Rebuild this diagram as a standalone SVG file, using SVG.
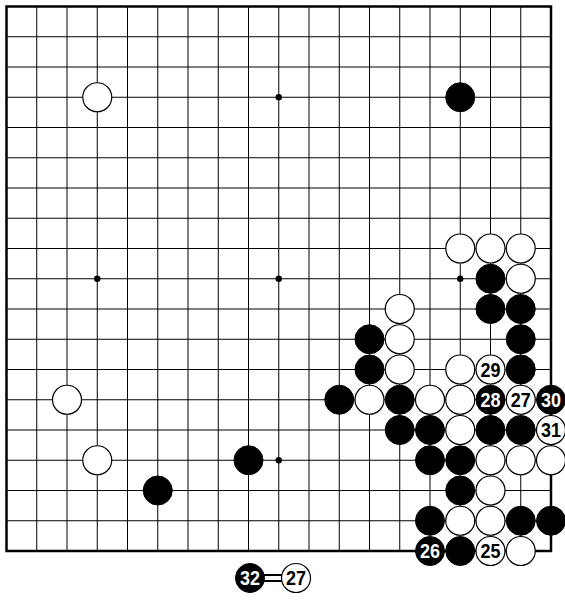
<svg xmlns="http://www.w3.org/2000/svg" width="565" height="602" viewBox="0 0 565 602">
<style>
.grid{stroke:#000;stroke-width:1;fill:none}
.border{stroke:#000;stroke-width:2.5;fill:none}
.b{fill:#000;stroke:#000;stroke-width:1}
.w{fill:#fff;stroke:#000;stroke-width:1.2}
.hoshi{fill:#000}
text{font-family:"Liberation Sans",Arial,sans-serif;font-weight:bold;font-size:19.5px;text-anchor:middle}
.tw{fill:#fff}
.tb{fill:#000}
</style>
<rect width="565" height="602" fill="#fff"/>
<g id="board">
<path class="grid" d="M36.75 6.5V551M67 6.5V551M97.25 6.5V551M127.5 6.5V551M157.75 6.5V551M188 6.5V551M218.25 6.5V551M248.5 6.5V551M278.75 6.5V551M309 6.5V551M339.25 6.5V551M369.5 6.5V551M399.75 6.5V551M430 6.5V551M460.25 6.5V551M490.5 6.5V551M520.75 6.5V551M6.5 36.75H551M6.5 67H551M6.5 97.25H551M6.5 127.5H551M6.5 157.75H551M6.5 188H551M6.5 218.25H551M6.5 248.5H551M6.5 278.75H551M6.5 309H551M6.5 339.25H551M6.5 369.5H551M6.5 399.75H551M6.5 430H551M6.5 460.25H551M6.5 490.5H551M6.5 520.75H551"/>
<rect class="border" x="6.5" y="6.5" width="544.5" height="544.5"/>
<circle class="hoshi" cx="278.75" cy="97.25" r="3.2"/>
<circle class="hoshi" cx="97.25" cy="278.75" r="3.2"/>
<circle class="hoshi" cx="278.75" cy="278.75" r="3.2"/>
<circle class="hoshi" cx="460.25" cy="278.75" r="3.2"/>
<circle class="hoshi" cx="278.75" cy="460.25" r="3.2"/>
</g>
<g id="stones">
<circle id="w-3-3" class="w" cx="97.25" cy="97.25" r="14.5"/>
<circle id="b-15-3" class="b" cx="460.25" cy="97.25" r="14.5"/>
<circle class="w" cx="460.25" cy="248.5" r="14.5"/>
<circle class="w" cx="490.5" cy="248.5" r="14.5"/>
<circle class="w" cx="520.75" cy="248.5" r="14.5"/>
<circle class="b" cx="490.5" cy="278.75" r="14.5"/>
<circle class="w" cx="520.75" cy="278.75" r="14.5"/>
<circle class="w" cx="399.75" cy="309" r="14.5"/>
<circle class="b" cx="490.5" cy="309" r="14.5"/>
<circle class="b" cx="520.75" cy="309" r="14.5"/>
<circle class="b" cx="369.5" cy="339.25" r="14.5"/>
<circle class="w" cx="399.75" cy="339.25" r="14.5"/>
<circle class="b" cx="520.75" cy="339.25" r="14.5"/>
<circle class="b" cx="369.5" cy="369.5" r="14.5"/>
<circle class="w" cx="399.75" cy="369.5" r="14.5"/>
<circle class="w" cx="460.25" cy="369.5" r="14.5"/>
<circle class="b" cx="520.75" cy="369.5" r="14.5"/>
<circle class="w" cx="67" cy="399.75" r="14.5"/>
<circle class="b" cx="339.25" cy="399.75" r="14.5"/>
<circle class="w" cx="369.5" cy="399.75" r="14.5"/>
<circle class="b" cx="399.75" cy="399.75" r="14.5"/>
<circle class="w" cx="430" cy="399.75" r="14.5"/>
<circle class="w" cx="460.25" cy="399.75" r="14.5"/>
<circle class="b" cx="399.75" cy="430" r="14.5"/>
<circle class="b" cx="430" cy="430" r="14.5"/>
<circle class="w" cx="460.25" cy="430" r="14.5"/>
<circle class="b" cx="490.5" cy="430" r="14.5"/>
<circle class="b" cx="520.75" cy="430" r="14.5"/>
<circle class="w" cx="97.25" cy="460.25" r="14.5"/>
<circle class="b" cx="248.5" cy="460.25" r="14.5"/>
<circle class="b" cx="430" cy="460.25" r="14.5"/>
<circle class="b" cx="460.25" cy="460.25" r="14.5"/>
<circle class="w" cx="490.5" cy="460.25" r="14.5"/>
<circle class="w" cx="520.75" cy="460.25" r="14.5"/>
<circle class="w" cx="551" cy="460.25" r="14.5"/>
<circle class="b" cx="157.75" cy="490.5" r="14.5"/>
<circle class="b" cx="460.25" cy="490.5" r="14.5"/>
<circle class="w" cx="490.5" cy="490.5" r="14.5"/>
<circle class="b" cx="430" cy="520.75" r="14.5"/>
<circle class="w" cx="460.25" cy="520.75" r="14.5"/>
<circle class="w" cx="490.5" cy="520.75" r="14.5"/>
<circle class="b" cx="520.75" cy="520.75" r="14.5"/>
<circle class="b" cx="551" cy="520.75" r="14.5"/>
<circle class="b" cx="460.25" cy="551" r="14.5"/>
<circle class="w" cx="520.75" cy="551" r="14.5"/>
</g>
<g id="m25"><circle class="w" cx="490.5" cy="551" r="14.5"/><text class="tb" x="490.5" y="558" textLength="20" lengthAdjust="spacingAndGlyphs">25</text></g>
<g id="m26"><circle class="b" cx="430" cy="551" r="14.5"/><text class="tw" x="430" y="558" textLength="20" lengthAdjust="spacingAndGlyphs">26</text></g>
<g id="m27"><circle class="w" cx="520.75" cy="399.75" r="14.5"/><text class="tb" x="520.75" y="406.75" textLength="20" lengthAdjust="spacingAndGlyphs">27</text></g>
<g id="m28"><circle class="b" cx="490.5" cy="399.75" r="14.5"/><text class="tw" x="490.5" y="406.75" textLength="20" lengthAdjust="spacingAndGlyphs">28</text></g>
<g id="m29"><circle class="w" cx="490.5" cy="369.5" r="14.5"/><text class="tb" x="490.5" y="376.5" textLength="20" lengthAdjust="spacingAndGlyphs">29</text></g>
<g id="m30"><circle class="b" cx="551" cy="399.75" r="14.5"/><text class="tw" x="551" y="406.75" textLength="20" lengthAdjust="spacingAndGlyphs">30</text></g>
<g id="m31"><circle class="w" cx="551" cy="430" r="14.5"/><text class="tb" x="551" y="437" textLength="20" lengthAdjust="spacingAndGlyphs">31</text></g>
<g id="legend">
<circle class="b" cx="250" cy="578" r="14.5"/><text class="tw" x="250" y="585" textLength="20" lengthAdjust="spacingAndGlyphs">32</text>
<path d="M264 575H282M264 581H282" stroke="#000" stroke-width="2"/>
<circle class="w" cx="296" cy="578" r="14.5"/><text class="tb" x="296" y="585" textLength="20" lengthAdjust="spacingAndGlyphs">27</text>
</g>
</svg>
